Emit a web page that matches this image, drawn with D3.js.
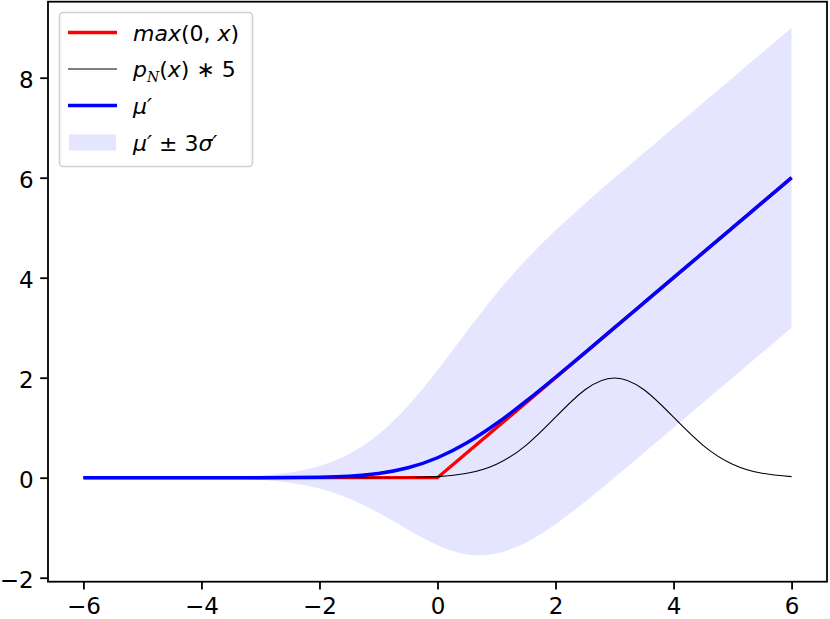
<!DOCTYPE html>
<html>
<head>
<meta charset="utf-8">
<script src="https://d3js.org/d3.v7.min.js"></script>
<style>
  body { margin: 0; background: #fff; }
  text { font-family: "DejaVu Sans", sans-serif; }
</style>
</head>
<body>
<svg width=830 height=619></svg>
<script>
// values
var xs = [-6, -5.5, -5, -4.5, -4, -3.5, -3, -2.5, -2, -1.5, -1, -0.5, 0,
          0.5, 1, 1.5, 2, 2.5, 3, 3.5, 4, 4.5, 5, 5.5, 6]
var mu = [0, 0, 0, 0, 0.00001, 0.00006, 0.0004, 0.002, 0.0085, 0.0293, 0.0833, 0.1978, 0.3989,
          0.6978, 1.0833, 1.5293, 2.0085, 2.502, 3.0004, 3.5001, 4.0, 4.5, 5.0, 5.5, 6.0]
var upper = [0, 0, 0.0004, 0.0016, 0.0053, 0.016, 0.0432, 0.1057, 0.2349, 0.4741, 0.8679, 1.4366, 2.1505,
             2.9298, 3.6833, 4.3569, 4.9482, 5.4851, 5.9966, 6.4994, 6.9998, 7.5, 8.0, 8.5, 9.0]
var lower = [0, 0, -0.0004, -0.0016, -0.0053, -0.016, -0.0424, -0.1017, -0.2179, -0.4155, -0.7013, -1.041, -1.3526,
             -1.534, -1.5166, -1.2983, -0.9312, -0.4811, 0.0041, 0.5007, 1.0002, 1.5, 2.0, 2.5, 3.0]
var pdf5 = [0, 0, 0, 0, 0, 0, 0, 0, 0, 0.0001, 0.0007, 0.0044, 0.0222,
            0.0876, 0.27, 0.6476, 1.2099, 1.7603, 1.9947, 1.7603, 1.2099, 0.6476, 0.27, 0.0876, 0.0222]
var reluX = [-6, 0, 6]
var reluY = [0, 0, 6]
var xTicks = [-6, -4, -2, 0, 2, 4, 6]
var yTicks = [-2, 0, 2, 4, 6, 8]

var svg = d3.select('svg')
var pLeft = 48, pRight = 827, pTop = 1.7, pBottom = 581.7

var x = d3.scaleLinear().domain([-6.6, 6.6]).range([pLeft, pRight])
var y = d3.scaleLinear().domain([-2.08, 9.52]).range([pBottom, pTop])

var idx = d3.range(xs.length)
var minus = d => d < 0 ? '\u2212' + (-d) : d

  //band
  svg.append('path')
    .attr('d', d3.area()
      .x(i => x(xs[i]))
      .y0(i => y(lower[i]))
      .y1(i => y(upper[i]))
      .curve(d3.curveNatural)(idx))
    .attr('fill', 'blue')
    .attr('fill-opacity', 0.1)

  //relu
  svg.append('path')
    .attr('d', d3.line()
      .x(i => x(reluX[i]))
      .y(i => y(reluY[i]))(d3.range(reluX.length)))
    .attr('fill', 'none')
    .attr('stroke', 'red')
    .attr('stroke-width', 3.3)

  //pdf
  svg.append('path')
    .attr('d', d3.line()
      .x(i => x(xs[i]))
      .y(i => y(pdf5[i]))
      .curve(d3.curveNatural)(idx))
    .attr('fill', 'none')
    .attr('stroke', 'black')
    .attr('stroke-width', 1.1)

  //mu'
  svg.append('path')
    .attr('d', d3.line()
      .x(i => x(xs[i]))
      .y(i => y(mu[i]))
      .curve(d3.curveNatural)(idx))
    .attr('fill', 'none')
    .attr('stroke', 'blue')
    .attr('stroke-width', 3.5)

  //axes
  svg.append('g')
    .attr('transform', 'translate(0,' + pBottom + ')')
    .call(d3.axisBottom(x).tickValues(xTicks).tickSize(7.8).tickPadding(8.5).tickFormat(minus))
  var yAxis = svg.append('g')
    .attr('transform', 'translate(' + pLeft + ',0)')
    .call(d3.axisLeft(y).tickValues(yTicks).tickSize(7.8).tickPadding(6.5).tickFormat(minus))
  yAxis.selectAll('.tick text').attr('dy', '0.44em')

  svg.selectAll('.domain').remove()
  svg.selectAll('.tick line').attr('stroke', 'black').attr('stroke-width', 1.8)
  svg.selectAll('.tick text')
    .attr('fill', 'black')
    .style('font-family', '"DejaVu Sans"')
    .style('font-size', '23px')

  svg.append('rect')
    .attr('x', pLeft).attr('y', pTop)
    .attr('width', pRight - pLeft).attr('height', pBottom - pTop)
    .attr('fill', 'none')
    .attr('stroke', 'black')
    .attr('stroke-width', 1.8)

  //legend
  var lg = svg.append('g')
  lg.append('rect')
    .attr('x', 59.5).attr('y', 12.5)
    .attr('width', 193).attr('height', 154)
    .attr('rx', 4)
    .attr('fill', 'white').attr('fill-opacity', 0.8)
    .attr('stroke', '#d0d0d0').attr('stroke-width', 1.6)

  var rows = [32.5, 69, 105.5, 142.5]
  var hx0 = 68, hx1 = 117, tx = 133

  lg.append('line').attr('x1', hx0).attr('x2', hx1).attr('y1', rows[0]).attr('y2', rows[0])
    .attr('stroke', 'red').attr('stroke-width', 3.3)
  lg.append('line').attr('x1', hx0).attr('x2', hx1).attr('y1', rows[1]).attr('y2', rows[1])
    .attr('stroke', 'black').attr('stroke-width', 1.1)
  lg.append('line').attr('x1', hx0).attr('x2', hx1).attr('y1', rows[2]).attr('y2', rows[2])
    .attr('stroke', 'blue').attr('stroke-width', 3.5)
  lg.append('rect').attr('x', 69).attr('y', rows[3] - 8).attr('width', 47).attr('height', 16)
    .attr('fill', 'blue').attr('fill-opacity', 0.1)

  function label(row) {
    return lg.append('text').attr('x', tx).attr('y', row + 8).style('font-size', '22px')
  }
  var t1 = label(rows[0])
  t1.append('tspan').style('font-style', 'italic').text('max')
  t1.append('tspan').text('(0, ')
  t1.append('tspan').style('font-style', 'italic').text('x')
  t1.append('tspan').text(')')

  var t2 = label(rows[1])
  t2.append('tspan').style('font-style', 'italic').text('p')
  t2.append('tspan').attr('dy', 5).style('font-style', 'italic')
    .style('font-family', '"DejaVu Serif"').style('font-size', '14px').text('N')
  t2.append('tspan').attr('dy', -5).text('(')
  t2.append('tspan').style('font-style', 'italic').text('x')
  t2.append('tspan').text(') \u2217 5')

  var t3 = label(rows[2])
  t3.append('tspan').style('font-style', 'italic').text('\u03bc\u2032')

  var t4 = label(rows[3])
  t4.append('tspan').style('font-style', 'italic').text('\u03bc\u2032')
  t4.append('tspan').text(' \u00b1 3')
  t4.append('tspan').style('font-style', 'italic').text('\u03c3\u2032')
</script>
</body>
</html>
